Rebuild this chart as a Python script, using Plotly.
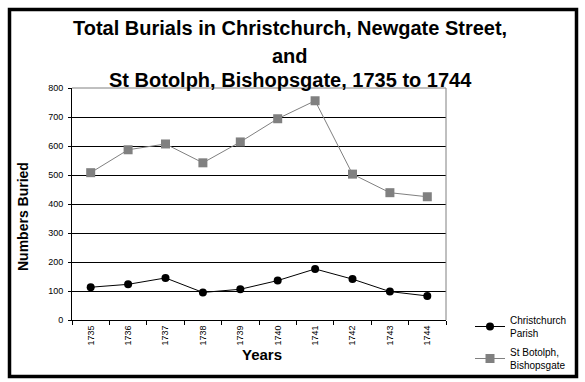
import plotly.graph_objects as go

years = ["1735", "1736", "1737", "1738", "1739", "1740", "1741", "1742", "1743", "1744"]
christchurch = [113, 123, 145, 95, 106, 136, 176, 141, 98, 83]
st_botolph = [508, 587, 607, 542, 614, 694, 756, 503, 439, 425]
y_ticks = [0, 100, 200, 300, 400, 500, 600, 700, 800]
title_lines = ["Total Burials in Christchurch, Newgate Street,", "and",
               "St Botolph, Bishopsgate, 1735 to 1744"]

W, H = 585, 382
L, R, T, B = 72, 446, 88, 320
pw, ph = R - L, B - T

def px(x):
    return (x - L) / pw

def py(y):
    return (B - y) / ph

FONT = "Liberation Sans, Arial"

fig = go.Figure()
fig.add_trace(go.Scatter(
    x=years, y=christchurch, name="Christchurch<br>Parish", mode="lines+markers",
    legendgroup="a",
    line=dict(color="black", width=1),
    marker=dict(symbol="circle", size=8, color="black"),
))
fig.add_trace(go.Scatter(
    x=years, y=st_botolph, name="St Botolph,<br>Bishopsgate", mode="lines+markers",
    legendgroup="b",
    line=dict(color="#808080", width=1),
    marker=dict(symbol="square", size=9, color="#808080"),
))

fig.update_layout(
    width=W, height=H,
    margin=dict(l=L, r=W - R, t=T, b=H - B, autoexpand=False),
    paper_bgcolor="white", plot_bgcolor="white",
    showlegend=True,
    legend=dict(xref="container", yref="container", x=470 / W, y=1 - 307 / H,
                xanchor="left", yanchor="top",
                font=dict(family=FONT, size=10, color="black"),
                bgcolor="rgba(0,0,0,0)", tracegroupgap=3, itemwidth=30),
    font=dict(family=FONT, color="black"),
    xaxis=dict(type="category", tickson="boundaries", ticks="outside", ticklen=4,
               tickcolor="black", showline=True, linecolor="black", linewidth=1,
               showgrid=False, tickangle=-90, ticklabelstandoff=1,
               tickfont=dict(family=FONT, size=9, color="black"),
               range=[-0.5, 9.5]),
    yaxis=dict(range=[0, 800], tickvals=y_ticks, ticks="outside", ticklen=3,
               tickcolor="black", showline=True, linecolor="black", linewidth=1,
               showgrid=True, gridcolor="black", gridwidth=1, zeroline=False,
               ticklabelstandoff=3,
               tickfont=dict(family=FONT, size=9, color="black")),
)

shapes = [
    dict(type="line", xref="paper", yref="paper", x0=0, x1=1, y0=1, y1=1,
         line=dict(color="#808080", width=1), layer="above"),
    dict(type="line", xref="paper", yref="paper", x0=1, x1=1, y0=0, y1=1,
         line=dict(color="#808080", width=1), layer="above"),
    dict(type="rect", xref="paper", yref="paper", x0=px(9.5), x1=px(576.5),
         y0=py(376.5), y1=py(9.5), line=dict(color="black", width=3.5)),
]
fig.update_layout(shapes=shapes)

for line, yb in zip(title_lines, [35, 62.5, 87.5]):
    fig.add_annotation(text="<b>" + line + "</b>", xref="paper", yref="paper",
                       x=px(290), y=py(yb + 6), xanchor="center", yanchor="bottom",
                       showarrow=False, font=dict(family=FONT, size=20, color="black"))
fig.add_annotation(text="<b>Numbers Buried</b>", xref="paper", yref="paper",
                   x=px(23), y=py(217), xanchor="center", yanchor="middle", textangle=-90,
                   showarrow=False, font=dict(family=FONT, size=14, color="black"))
fig.add_annotation(text="<b>Years</b>", xref="paper", yref="paper",
                   x=px(262), y=py(354), xanchor="center", yanchor="middle",
                   showarrow=False, font=dict(family=FONT, size=15, color="black"))

fig.write_html("out.html", config={"displayModeBar": False},
               post_script="document.body.style.margin='0';")
